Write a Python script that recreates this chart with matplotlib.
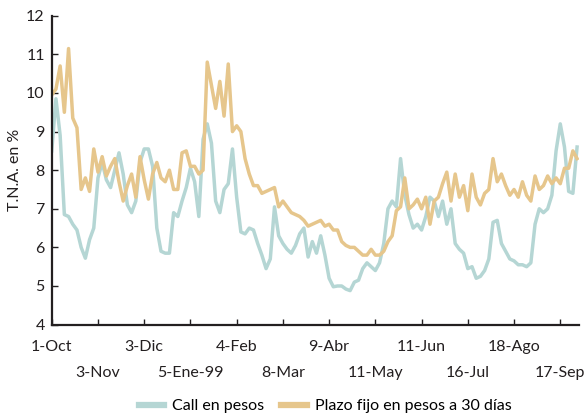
import matplotlib.pyplot as plt
import numpy as np

# una observación por cada 2 días hábiles (01-oct-98 a sep-99)
paso = 2
call_pesos = [
    8.5, 9.85, 8.9, 6.85, 6.8, 6.6, 6.45, 6.0, 5.72, 6.2,
    6.5, 7.8, 8.2, 7.75, 7.55, 8.0, 8.45, 7.9, 7.1, 6.9,
    7.2, 8.2, 8.55, 8.55, 8.1, 6.5, 5.9, 5.85, 5.85, 6.9,
    6.8, 7.2, 7.55, 8.05, 7.7, 6.8, 8.8, 9.2, 8.7, 7.2,
    6.9, 7.5, 7.65, 8.55, 7.3, 6.4, 6.35, 6.5, 6.45, 6.1,
    5.8, 5.45, 5.7, 7.05, 6.3, 6.1, 5.95, 5.85, 6.05, 6.35,
    6.5, 5.75, 6.15, 5.85, 6.3, 5.8, 5.2, 4.98, 5.0, 5.0,
    4.92, 4.88, 5.1, 5.15, 5.45, 5.6, 5.5, 5.4, 5.6, 6.1,
    7.0, 7.2, 7.05, 8.3, 7.35, 6.85, 6.5, 6.6, 6.45, 6.8,
    7.3, 7.2, 6.8, 7.2, 6.6, 7.0, 6.1, 5.95, 5.85, 5.45,
    5.5, 5.2, 5.25, 5.4, 5.7, 6.65, 6.7, 6.1, 5.9, 5.7,
    5.65, 5.55, 5.55, 5.5, 5.6, 6.6, 7.0, 6.9, 7.0, 7.35,
    8.5, 9.2, 8.6, 7.45, 7.4, 8.6,
]
plazo_fijo = [
    9.95, 10.1, 10.7, 9.5, 11.15, 9.35, 9.1, 7.5, 7.8, 7.45,
    8.55, 7.95, 8.35, 7.85, 8.1, 8.3, 7.7, 7.2, 7.6, 7.9,
    7.3, 8.35, 7.75, 7.25, 7.9, 8.2, 7.8, 7.7, 8.0, 7.5,
    7.5, 8.45, 8.5, 8.1, 8.1, 7.9, 8.0, 10.8, 10.2, 9.6,
    10.3, 9.4, 10.75, 9.0, 9.15, 9.0, 8.3, 7.9, 7.6, 7.6,
    7.4, 7.45, 7.5, 7.55, 7.05, 7.2, 7.05, 6.9, 6.85, 6.8,
    6.7, 6.55, 6.6, 6.65, 6.7, 6.55, 6.6, 6.45, 6.45, 6.15,
    6.05, 6.0, 6.0, 5.9, 5.8, 5.8, 5.95, 5.8, 5.8, 5.9,
    6.15, 6.3, 6.95, 7.05, 7.8, 7.0, 7.1, 7.25, 7.0, 7.3,
    6.6, 7.2, 7.3, 7.65, 7.95, 7.2, 7.9, 7.3, 7.6, 6.95,
    7.9, 7.3, 7.1, 7.4, 7.5, 8.3, 7.7, 7.9, 7.6, 7.35,
    7.5, 7.3, 7.7, 7.35, 7.2, 7.85, 7.5, 7.6, 7.85, 7.65,
    7.8, 7.65, 8.05, 8.05, 8.5, 8.3,
]
etiquetas = ['1-Oct', '3-Nov', '3-Dic', '5-Ene-99', '4-Feb', '8-Mar',
             '9-Abr', '11-May', '11-Jun', '16-Jul', '18-Ago', '17-Sep']
dias_entre_etiquetas = 22

color_call = '#b5d6d4'
color_plazo = '#e6c68c'
negro = '#231f20'

plt.rcParams['font.family'] = ['Lato', 'DejaVu Sans']
plt.rcParams['font.size'] = 11.5

fig = plt.figure(figsize=(5.88, 4.17), dpi=100)
ax = fig.add_axes([0.088, 0.2216, 0.897, 0.7406])

x = np.arange(len(call_pesos)) * paso
ax.plot(x, call_pesos, color=color_call, linewidth=2.5, label='Call en pesos')
ax.plot(x, plazo_fijo, color=color_plazo, linewidth=2.5,
        label='Plazo fijo en pesos a 30 días')

ax.set_xlim(0, 251)
ax.set_ylim(4, 12)
ax.set_yticks(range(4, 13))

pos = np.arange(len(etiquetas)) * dias_entre_etiquetas
ax.set_xticks(pos[::2], etiquetas[::2])
ax.set_xticks(pos[1::2], etiquetas[1::2], minor=True)
ax.tick_params(axis='x', which='major', direction='in', length=4, width=1,
               pad=11, colors=negro, labelsize=11.5)
ax.tick_params(axis='x', which='minor', direction='in', length=4, width=1,
               pad=30, colors=negro, labelsize=11.5)
ax.tick_params(axis='y', direction='in', length=4, width=1, pad=5,
               colors=negro, labelsize=11.5)

for lado in ['top', 'right']:
    ax.spines[lado].set_visible(False)
for lado in ['left', 'bottom']:
    ax.spines[lado].set_linewidth(1.6)
    ax.spines[lado].set_color(negro)

ax.set_ylabel('T.N.A. en %', fontsize=11.5, color=negro, labelpad=3)

fig.legend(loc='center', bbox_to_anchor=(0.553, 0.026), ncol=2, frameon=False,
           handlelength=1.6, columnspacing=1.05, handletextpad=0.5,
           fontsize=11.5)
for h in fig.legends[0].get_lines():
    h.set_linewidth(4.5)

plt.savefig('out.png', dpi=100)
